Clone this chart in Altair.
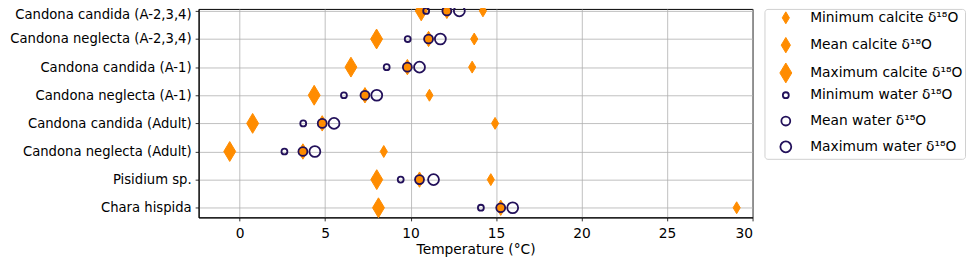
import json
import altair as alt
import pandas as pd

species = [
    "Candona candida (A-2,3,4)",
    "Candona neglecta (A-2,3,4)",
    "Candona candida (A-1)",
    "Candona neglecta (A-1)",
    "Candona candida (Adult)",
    "Candona neglecta (Adult)",
    "Pisidium sp.",
    "Chara hispida",
]
min_calcite = [14.23, 13.72, 13.60, 11.10, 14.94, 8.43, 14.69, 29.07]
mean_calcite = [12.12, 11.05, 9.81, 7.33, 4.83, 3.70, 10.52, 15.27]
max_calcite = [10.62, 8.01, 6.51, 4.36, 0.76, -0.58, 8.02, 8.12]
min_water = [10.91, 9.83, 8.60, 6.10, 3.72, 2.62, 9.42, 14.11]
mean_water = [12.12, 11.05, 9.81, 7.33, 4.83, 3.70, 10.52, 15.27]
max_water = [12.85, 11.74, 10.52, 8.02, 5.52, 4.40, 11.34, 15.97]

series_names = [
    "Minimum calcite δ¹⁸O",
    "Mean calcite δ¹⁸O",
    "Maximum calcite δ¹⁸O",
    "Minimum water δ¹⁸O",
    "Mean water δ¹⁸O",
    "Maximum water δ¹⁸O",
]
x_ticks = [0, 5, 10, 15, 20, 25, 30]

ORANGE = "#ff8c00"
NAVY = "#22105a"
DIAMOND = "M0,-1L0.6,0L0,1L-0.6,0Z"
FONT = "DejaVu Sans"


def make_df(names, arrays):
    rows = []
    for name, vals in zip(names, arrays):
        for i, (sp, v) in enumerate(zip(species, vals)):
            rows.append({"species": sp, "series": name, "temp": v,
                         "ypos": len(species) - 1 - i})
    return pd.DataFrame(rows)


df_calcite = make_df(series_names[:3], [min_calcite, mean_calcite, max_calcite])
df_water = make_df(series_names[3:], [min_water, mean_water, max_water])

labels_bottom_up = list(reversed(species))
label_expr = json.dumps(labels_bottom_up, ensure_ascii=False) + "[datum.value]"
top_index = len(species) - 1


def sc(rng, typ=None):
    if typ:
        return alt.Scale(type=typ, domain=series_names, range=rng)
    return alt.Scale(domain=series_names, range=rng)


enc = dict(
    x=alt.X("temp:Q",
            scale=alt.Scale(domain=[-2.4, 30], nice=False, zero=False),
            axis=alt.Axis(values=x_ticks, title="Temperature (°C)",
                          labelPadding=6, titlePadding=2)),
    y=alt.Y("ypos:Q",
            scale=alt.Scale(domain=[-0.343, 7.07], nice=False, zero=False),
            axis=alt.Axis(values=list(range(len(species))), labelExpr=label_expr,
                          title=None, labelPadding=4, labelLimit=0, labelFontSize=13.3,
                          labelOffset={"condition": {"test": f"datum.value == {top_index}",
                                                     "value": 4}, "value": 0})),
    shape=alt.Shape("series:N", scale=sc([DIAMOND] * 3 + ["circle"] * 3),
                    legend=alt.Legend(title=None, orient="none", legendX=570, legendY=0,
                                      labelFont=FONT, labelFontSize=13.9, labelColor="black",
                                      strokeColor="#d0d0d0", fillColor="white",
                                      cornerRadius=3, padding=2, rowPadding=0,
                                      symbolOffset=9, labelOffset=14, gridAlign="all")),
    size=alt.Size("series:N", scale=sc([144, 240, 400, 36, 81, 121], "ordinal")),
    fill=alt.Fill("series:N", scale=sc([ORANGE] * 3 + ["transparent"] * 3)),
    stroke=alt.Stroke("series:N", scale=sc([ORANGE] * 3 + [NAVY] * 3)),
    strokeWidth=alt.StrokeWidth("series:N", scale=sc([1, 1, 1, 1.8, 1.8, 1.8], "ordinal")),
)

calcite = alt.Chart(df_calcite).mark_point(opacity=1).encode(**enc)
water = alt.Chart(df_water).mark_point(opacity=1).encode(**enc)

chart = alt.layer(calcite, water).properties(
    width=558, height=210,
    autosize=alt.AutoSizeParams(type="none"),
    padding={"left": 192, "top": 0, "right": 216, "bottom": 42},
).configure_view(
    stroke="black", strokeWidth=1
).configure_axis(
    labelFont=FONT, labelFontSize=13.9, labelColor="black",
    titleFont=FONT, titleFontSize=13.9, titleFontWeight="normal", titleColor="black",
    domainColor="black", domainWidth=1, tickColor="black", tickSize=3.5, tickWidth=0.8,
    gridColor="#b0b0b0", gridWidth=0.8,
)

chart.save("out.html", embed_options={"renderer": "svg", "actions": False})
